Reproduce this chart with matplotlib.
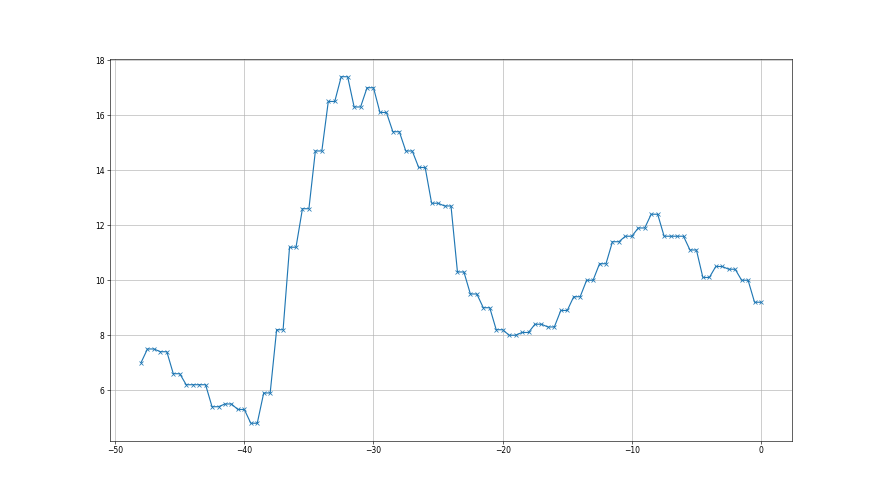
import numpy as np
import matplotlib
matplotlib.use("Agg")
import matplotlib.pyplot as plt

# first point sits alone at -48, then each whole step from -47 to 0
# holds a value over two half-steps (x - 0.5 and x)
start_x = -48
start_value = 7.0
steps = list(range(-47, 1))
step_values = [
    7.5, 7.4, 6.6, 6.2, 6.2, 5.4, 5.5, 5.3, 4.8, 5.9,
    8.2, 11.2, 12.6, 14.7, 16.5, 17.4, 16.3, 17.0, 16.1, 15.4,
    14.7, 14.1, 12.8, 12.7, 10.3, 9.5, 9.0, 8.2, 8.0, 8.1,
    8.4, 8.3, 8.9, 9.4, 10.0, 10.6, 11.4, 11.6, 11.9, 12.4,
    11.6, 11.6, 11.1, 10.1, 10.5, 10.4, 10.0, 9.2,
]

x = [start_x]
y = [start_value]
for s, v in zip(steps, step_values):
    x.extend([s - 0.5, s])
    y.extend([v, v])

fig = plt.figure(figsize=(16, 9), dpi=55)
ax = fig.add_subplot(111)
ax.plot(x, y, marker="x", color="#1f77b4")
ax.grid(True)

plt.savefig("out.png", dpi=55)
plt.close()
